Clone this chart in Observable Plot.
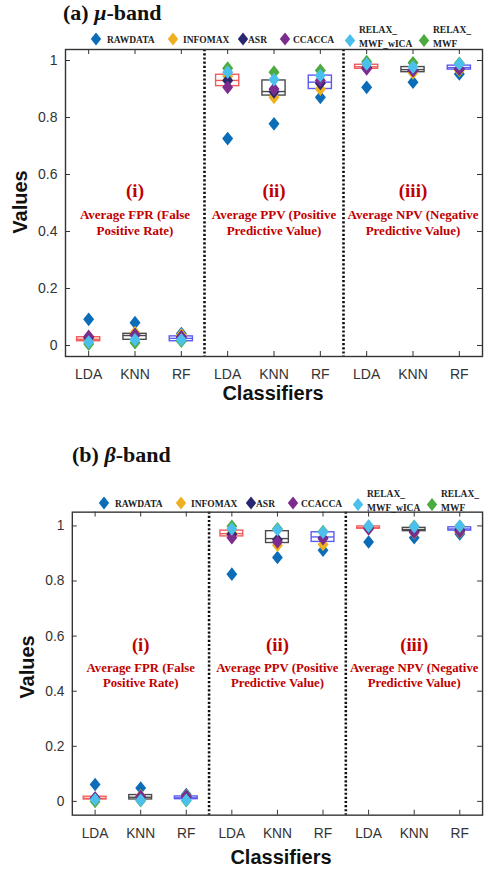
<!DOCTYPE html>
<html>
<head>
<meta charset="utf-8">
<script src="https://cdn.jsdelivr.net/npm/d3@7"></script>
<script src="https://cdn.jsdelivr.net/npm/@observablehq/plot@0.6"></script>
<style>
  html, body { margin: 0; padding: 0; background: #fff; overflow: hidden; }
  #page { position: relative; width: 487px; height: 871px; overflow: hidden; }
  #page > svg { position: absolute; }
</style>
</head>
<body>
<div id="page"></div>
<script>
// ---------------- data ----------------
const methods = ["RAWDATA", "INFOMAX", "ASR", "CCACCA", "RELAX_MWF_wICA", "RELAX_MWF"];
const classifiers = ["LDA", "KNN", "RF"];
const metricHeads = ["(i)", "(ii)", "(iii)"];
const metricTexts = ["Average FPR (False\nPositive Rate)", "Average PPV (Positive\nPredictive Value)", "Average NPV (Negative\nPredictive Value)"];
const yTicks = [0, 0.2, 0.4, 0.6, 0.8, 1];

// mu-band: order LDA,KNN,RF for FPR, PPV, NPV
const muRAWDATA = [0.092, 0.080, 0.042, 0.726, 0.778, 0.871, 0.906, 0.924, 0.953];
const muINFOMAX = [0.025, 0.045, 0.037, 0.945, 0.871, 0.900, 0.978, 0.957, 0.965];
const muASR     = [0.027, 0.038, 0.030, 0.930, 0.890, 0.920, 0.975, 0.965, 0.970];
const muCCACCA  = [0.032, 0.036, 0.030, 0.906, 0.900, 0.930, 0.971, 0.965, 0.971];
const muWICA    = [0.012, 0.020, 0.020, 0.959, 0.933, 0.947, 0.988, 0.977, 0.988];
const muMWF     = [0.005, 0.010, 0.015, 0.973, 0.959, 0.965, 0.996, 0.992, 0.990];
const muBoxQ1   = [0.015, 0.020, 0.015, 0.910, 0.877, 0.900, 0.971, 0.959, 0.968];
const muBoxMed  = [0.022, 0.035, 0.025, 0.930, 0.891, 0.924, 0.978, 0.968, 0.975];
const muBoxQ3   = [0.029, 0.041, 0.032, 0.950, 0.930, 0.947, 0.985, 0.977, 0.982];

// beta-band
const betaRAWDATA = [0.061, 0.049, 0.025, 0.825, 0.885, 0.912, 0.942, 0.957, 0.971];
const betaINFOMAX = [0.010, 0.020, 0.020, 0.975, 0.930, 0.933, 0.995, 0.975, 0.978];
const betaASR     = [0.012, 0.016, 0.018, 0.970, 0.950, 0.955, 0.993, 0.980, 0.985];
const betaCCACCA  = [0.011, 0.018, 0.018, 0.957, 0.942, 0.954, 0.989, 0.977, 0.980];
const betaWICA    = [0.007, 0.004, 0.004, 0.989, 0.986, 0.977, 1.000, 0.997, 1.000];
const betaMWF     = [0.000, 0.002, 0.002, 0.999, 0.990, 0.980, 0.999, 0.999, 0.999];
const betaBoxQ1   = [0.007, 0.007, 0.008, 0.962, 0.938, 0.942, 0.990, 0.981, 0.983];
const betaBoxMed  = [0.011, 0.015, 0.013, 0.972, 0.954, 0.960, 0.993, 0.987, 0.989];
const betaBoxQ3   = [0.017, 0.023, 0.018, 0.983, 0.981, 0.977, 0.998, 0.993, 0.995];

// ---------------- styles ----------------
const methodColors = {
  RAWDATA: "#0b6db8", INFOMAX: "#eeb01f", ASR: "#28276f",
  CCACCA: "#7b2c8d", RELAX_MWF_wICA: "#4cc0ec", RELAX_MWF: "#4cab3e"
};
const drawOrder = ["RAWDATA", "INFOMAX", "ASR", "CCACCA", "RELAX_MWF", "RELAX_MWF_wICA"];
const boxColors = ["#f25a5a", "#4a4a4a", "#5b5bf0"];
const serif = "'Liberation Serif', 'Times New Roman', serif";
const sans = "'Liberation Sans', Arial, sans-serif";

const diamond = {
  draw(context, size) {
    const r = Math.sqrt(size / Math.PI);
    const w = r, h = r * 1.25;
    context.moveTo(0, -h); context.lineTo(w, 0); context.lineTo(0, h); context.lineTo(-w, 0); context.closePath();
  }
};

function panel(series, q1, med, q3, cfg) {
  const n = q1.length;
  const pos = d3.range(1, n + 1);
  const rows = [];
  drawOrder.forEach(m => {
    const vals = series[methods.indexOf(m)];
    vals.forEach((v, i) => rows.push({pos: i + 1, v, m}));
  });
  const boxes = pos.map((p, i) => ({pos: p, q1: q1[i], med: med[i], q3: q3[i], c: boxColors[i % 3]}));
  const seps = d3.range(1, metricHeads.length).map(k => k * classifiers.length + 0.5);
  const centers = metricHeads.map((h, k) => ({x: k * classifiers.length + 2, head: h, body: metricTexts[k]}));
  const fw = cfg.width - cfg.marginLeft - cfg.marginRight;
  const fh = cfg.height - cfg.marginTop - cfg.marginBottom;
  const bw = 0.25;
  return Plot.plot({
    width: cfg.width, height: cfg.height,
    marginLeft: cfg.marginLeft, marginRight: cfg.marginRight,
    marginTop: cfg.marginTop, marginBottom: cfg.marginBottom,
    x: {domain: [0.5, n + 0.5], axis: null},
    y: {domain: cfg.ydom, axis: null},
    color: {type: "identity"},
    style: {background: "transparent", fontFamily: sans, overflow: "visible"},
    marks: [
      Plot.ruleX(seps, {x: d => d, stroke: "#111", strokeWidth: 2.6, strokeDasharray: "2.2,2"}),
      Plot.rect(boxes, {x1: d => d.pos - bw, x2: d => d.pos + bw, y1: "q1", y2: "q3", stroke: "c", fill: "none", strokeWidth: 1.4}),
      Plot.ruleY(boxes, {y: "med", x1: d => d.pos - bw, x2: d => d.pos + bw, stroke: "c", strokeWidth: 1.4}),
      Plot.dot(rows, {x: "pos", y: "v", fill: d => methodColors[d.m], symbol: diamond, r: 5.5, stroke: "none"}),
      Plot.text(centers, {x: "x", frameAnchor: "middle", text: "head", dy: cfg.headDy, fill: "#c00000", fontSize: 19, fontWeight: "bold", fontFamily: serif}),
      Plot.text(centers, {x: "x", frameAnchor: "middle", text: "body", dy: cfg.bodyDy, fill: "#c00000", fontSize: 13, fontWeight: "bold", fontFamily: serif, lineHeight: 1.24}),
      Plot.tickY(yTicks, {y: d => d, insetRight: fw - 5, stroke: "#333", strokeWidth: 1}),
      Plot.tickY(yTicks, {y: d => d, insetLeft: fw - 5, stroke: "#333", strokeWidth: 1}),
      Plot.tickX(pos, {x: d => d, insetTop: fh - 5, stroke: "#333", strokeWidth: 1}),
      Plot.tickX(pos, {x: d => d, insetBottom: fh - 5, stroke: "#333", strokeWidth: 1}),
      Plot.frame({stroke: "#333", strokeWidth: 1.4}),
      Plot.axisY(yTicks, {anchor: "left", tickSize: 0, tickPadding: 8, fontSize: 14, fill: "#333", tickFormat: d => String(d), label: null}),
      Plot.axisX(pos, {anchor: "bottom", tickSize: 0, tickPadding: 13, fontSize: 14, fill: "#333", tickFormat: i => classifiers[(i - 1) % classifiers.length], label: null})
    ]
  });
}

const page = document.getElementById("page");

const A = panel([muRAWDATA, muINFOMAX, muASR, muCCACCA, muWICA, muMWF], muBoxQ1, muBoxMed, muBoxQ3,
  {width: 487, height: 410, marginLeft: 65, marginRight: 5, marginTop: 49, marginBottom: 54,
   ydom: [-0.0386, 1.0386], headDy: -12.5, bodyDy: 18.5});
A.style.left = "0px"; A.style.top = "0px";
page.appendChild(A);

const B = panel([betaRAWDATA, betaINFOMAX, betaASR, betaCCACCA, betaWICA, betaMWF], betaBoxQ1, betaBoxMed, betaBoxQ3,
  {width: 495, height: 441, marginLeft: 73, marginRight: 5, marginTop: 83, marginBottom: 50,
   ydom: [-0.05, 1.05], headDy: -19, bodyDy: 11});
B.style.left = "0px"; B.style.top = "430px";
page.appendChild(B);

// ---------------- overlay: titles, legends, axis titles ----------------
const ov = d3.select(page).append("svg").attr("width", 487).attr("height", 871)
  .style("left", "0px").style("top", "0px").style("pointer-events", "none");

function title(x, y, letter, greek) {
  const t = ov.append("text").attr("x", x).attr("y", y)
    .attr("font-family", serif).attr("font-weight", "bold").attr("font-size", 22).attr("fill", "#111");
  t.append("tspan").text(letter + " ");
  t.append("tspan").attr("font-style", "italic").text(greek);
  t.append("tspan").text("-band");
}
title(63, 20, "(a)", "\u03bc");
title(72, 462, "(b)", "\u03b2");

const legendLabels = [["RAWDATA"], ["INFOMAX"], ["ASR"], ["CCACCA"], ["RELAX_", "MWF_wICA"], ["RELAX_", "MWF"]];
const legendDiamondX = [96, 173, 243, 285, 350, 424];
const legendTextX = [107, 183, 248, 293, 359, 433];
function legend(dx, yc) {
  methods.forEach((m, i) => {
    const cx = legendDiamondX[i] + dx;
    ov.append("path").attr("transform", `translate(${cx},${yc + (i >= 4 ? 1.5 : 0)})`)
      .attr("d", "M0,-6.6L5.2,0L0,6.6L-5.2,0Z").attr("fill", methodColors[m]);
    const lines = legendLabels[i];
    lines.forEach((s, j) => {
      const y = lines.length === 1 ? yc + 3.5 : yc - 6.5 + j * 14;
      ov.append("text").attr("x", legendTextX[i] + dx).attr("y", y)
        .attr("font-family", serif).attr("font-weight", "bold").attr("font-size", 9.5)
        .attr("fill", "#222").text(s);
    });
  });
}
legend(0, 39);
legend(8, 503);

function axisTitles(xc, yc, vx, vy) {
  ov.append("text").attr("x", xc).attr("y", yc).attr("text-anchor", "middle").attr("dominant-baseline", "middle")
    .attr("font-family", sans).attr("font-weight", "bold").attr("font-size", 20).attr("fill", "#111").text("Classifiers");
  ov.append("text").attr("transform", `translate(${vx},${vy}) rotate(-90)`).attr("text-anchor", "middle")
    .attr("dominant-baseline", "middle")
    .attr("font-family", sans).attr("font-weight", "bold").attr("font-size", 20).attr("fill", "#111").text("Values");
}
axisTitles(273, 395, 22, 202);
axisTitles(281, 859, 29, 667);
</script>
</body>
</html>
